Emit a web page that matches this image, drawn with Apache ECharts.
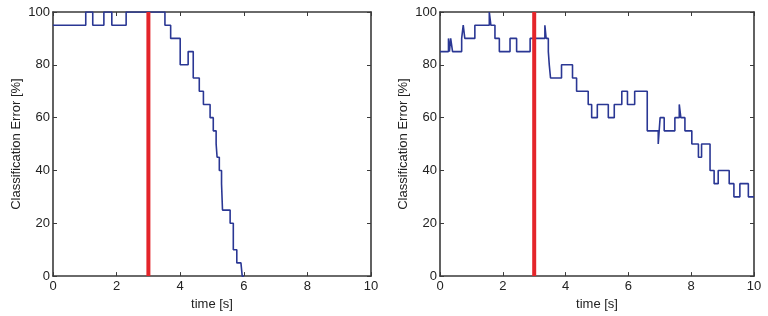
<!DOCTYPE html>
<html>
<head>
<meta charset="utf-8">
<script src="https://cdn.jsdelivr.net/npm/echarts@6/dist/echarts.min.js"></script>
<style>html,body{margin:0;padding:0;background:#fff}#c{width:768px;height:316px}</style>
</head>
<body>
<div id="c"></div>
<script>
var xTicks = [0, 2, 4, 6, 8, 10];
var yTicks = [0, 20, 40, 60, 80, 100];
var onsetTime = 3;
var leftTimes = [0, 1.03, 1.25, 1.6, 1.85, 2.3, 3.52, 3.7, 4.0, 4.25, 4.41, 4.6, 4.73, 4.94, 5.04, 5.13, 5.16, 5.23, 5.3, 5.33, 5.57, 5.67, 5.78, 5.91, 5.95, 6.0];
var leftErrors = [95, 100, 95, 100, 95, 100, 95, 90, 80, 85, 75, 70, 65, 60, 55, 50, 45, 40, 35, 25, 20, 10, 5, 5, 0, 0];
var rightTimes = [0, 0.27, 0.30, 0.34, 0.40, 0.69, 0.74, 0.79, 1.11, 1.57, 1.62, 1.75, 1.89, 2.23, 2.44, 2.87, 3.34, 3.38, 3.45, 3.48, 3.52, 3.87, 4.22, 4.35, 4.72, 4.83, 5.01, 5.36, 5.55, 5.79, 5.97, 6.20, 6.60, 6.95, 7.01, 7.14, 7.48, 7.62, 7.67, 7.80, 8.02, 8.23, 8.33, 8.60, 8.73, 8.86, 9.21, 9.36, 9.55, 9.82, 10];
var rightErrors = [85, 90, 85, 90, 85, 90, 95, 90, 95, 100, 95, 90, 85, 90, 85, 90, 95, 90, 85, 80, 75, 80, 75, 70, 65, 60, 65, 60, 65, 70, 65, 70, 55, 50, 60, 55, 60, 65, 60, 55, 50, 45, 50, 40, 35, 40, 35, 30, 35, 30, 30];
var xName = 'time [s]';
var yName = 'Classification Error [%]';

function pairs(t, v) { return t.map(function (x, i) { return [x, v[i]]; }); }

var axisColor = '#3a3a3a';
var font = 'Liberation Sans, Arial, sans-serif';
var labelStyle = { color: '#222', fontSize: 13, fontFamily: font };

function xAxes(gi) {
  return [
    { type: 'value', gridIndex: gi, min: xTicks[0], max: xTicks[xTicks.length - 1], interval: xTicks[1] - xTicks[0], position: 'bottom',
      name: xName, nameLocation: 'middle', nameGap: 19, nameTextStyle: labelStyle,
      axisLine: { onZero: false, lineStyle: { color: axisColor, width: 1.6 } },
      axisTick: { inside: true, length: 4, lineStyle: { color: axisColor } },
      axisLabel: Object.assign({ margin: 4 }, labelStyle), splitLine: { show: false } },
    { type: 'value', gridIndex: gi, min: xTicks[0], max: xTicks[xTicks.length - 1], interval: xTicks[1] - xTicks[0], position: 'top',
      axisLine: { onZero: false, lineStyle: { color: axisColor, width: 1.6 } },
      axisTick: { inside: true, length: 4, lineStyle: { color: axisColor } },
      axisLabel: { show: false }, splitLine: { show: false } }
  ];
}
function yAxes(gi) {
  return [
    { type: 'value', gridIndex: gi, min: yTicks[0], max: yTicks[yTicks.length - 1], interval: yTicks[1] - yTicks[0], position: 'left',
      name: yName, nameLocation: 'middle', nameGap: 30, nameRotate: 90, nameTextStyle: labelStyle,
      axisLine: { onZero: false, lineStyle: { color: axisColor, width: 1.6 } },
      axisTick: { inside: true, length: 4, lineStyle: { color: axisColor } },
      axisLabel: Object.assign({ margin: 3 }, labelStyle), splitLine: { show: false } },
    { type: 'value', gridIndex: gi, min: yTicks[0], max: yTicks[yTicks.length - 1], interval: yTicks[1] - yTicks[0], position: 'right',
      axisLine: { onZero: false, lineStyle: { color: axisColor, width: 1.6 } },
      axisTick: { inside: true, length: 4, lineStyle: { color: axisColor } },
      axisLabel: { show: false }, splitLine: { show: false } }
  ];
}

var blue = '#2a3794';
var red = '#e4252a';

var option = {
  backgroundColor: '#fff',
  animation: false,
  grid: [
    { left: 53, right: 397, top: 12, bottom: 39 },
    { left: 440, right: 14, top: 12, bottom: 39 }
  ],
  xAxis: xAxes(0).concat(xAxes(1)),
  yAxis: yAxes(0).concat(yAxes(1)),
  series: [
    { type: 'line', xAxisIndex: 0, yAxisIndex: 0, data: [[onsetTime, 0], [onsetTime, 100]],
      symbol: 'none', lineStyle: { color: red, width: 4 }, z: 3 },
    { type: 'line', xAxisIndex: 0, yAxisIndex: 0, step: 'end', data: pairs(leftTimes, leftErrors),
      symbol: 'none', lineStyle: { color: blue, width: 1.6 }, z: 2 },
    { type: 'line', xAxisIndex: 2, yAxisIndex: 2, data: [[onsetTime, 0], [onsetTime, 100]],
      symbol: 'none', lineStyle: { color: red, width: 4 }, z: 3 },
    { type: 'line', xAxisIndex: 2, yAxisIndex: 2, step: 'end', data: pairs(rightTimes, rightErrors),
      symbol: 'none', lineStyle: { color: blue, width: 1.6 }, z: 2 }
  ]
};
var chart = echarts.init(document.getElementById('c'), null, { renderer: 'canvas' });
chart.setOption(option);
</script>
</body>
</html>
